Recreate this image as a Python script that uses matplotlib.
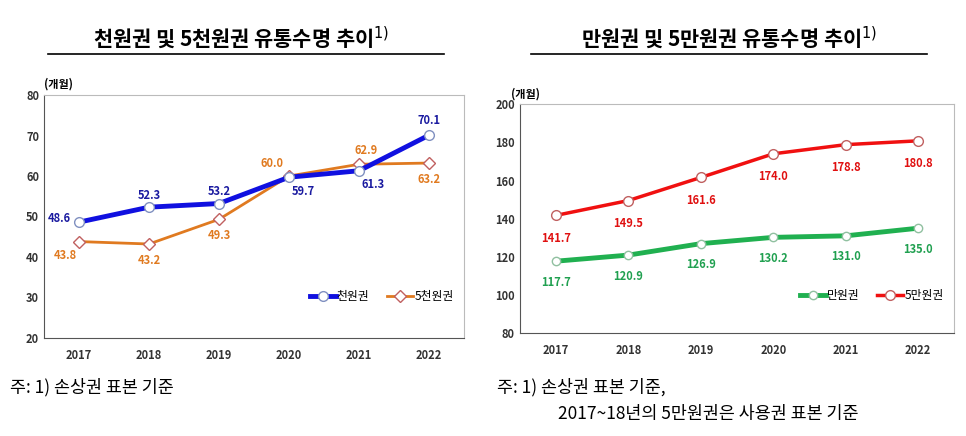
import matplotlib
matplotlib.use("Agg")
import matplotlib.pyplot as plt

plt.rcParams['font.family'] = ['Noto Sans CJK KR', 'DejaVu Sans']

years = ['2017', '2018', '2019', '2020', '2021', '2022']
won1000 = [48.6, 52.3, 53.2, 59.7, 61.3, 70.1]
won5000 = [43.8, 43.2, 49.3, 60.0, 62.9, 63.2]
won10000 = [117.7, 120.9, 126.9, 130.2, 131.0, 135.0]
won50000 = [141.7, 149.5, 161.6, 174.0, 178.8, 180.8]

fig = plt.figure(figsize=(9.66, 4.36), dpi=100)
ax1 = fig.add_axes([0.0455, 0.225, 0.435, 0.557])
ax2 = fig.add_axes([0.538, 0.236, 0.45, 0.525])
x = list(range(len(years)))

def style(ax, lo, hi, step):
    ax.set_ylim(lo, hi)
    ax.set_yticks(range(lo, hi + 1, step))
    ax.set_xlim(-0.5, 5.5)
    ax.set_xticks(x)
    ax.set_xticklabels(years, fontweight='bold', fontsize=8, color='#333333')
    ax.tick_params(axis='y', labelsize=8, colors='#333333', length=0)
    ax.tick_params(axis='x', length=0, pad=8)
    for s in ax.spines.values():
        s.set_color('#bbbbbb')
    ax.spines['left'].set_color('#555555')
    ax.spines['bottom'].set_color('#555555')
    for t in ax.get_yticklabels():
        t.set_fontweight('bold')

ax1.plot(x, won1000, color='#1010e0', lw=3.5, marker='o', ms=7, mfc='white', mec='#8090c0', label='천원권', zorder=3)
ax1.plot(x, won5000, color='#e07a20', lw=2, marker='D', ms=6, mfc='white', mec='#c06060', label='5천원권', zorder=2)
style(ax1, 20, 80, 10)
off1 = [(-0.28, 0.9), (0, 3), (0, 3), (0.2, -3.5), (0.2, -3.5), (0, 3.5)]
off5 = [(-0.2, -3.5), (0, -4), (0, -4), (-0.25, 3), (0.1, 3.5), (0, -4)]
for i in x:
    ax1.text(i + off1[i][0], won1000[i] + off1[i][1], f'{won1000[i]:.1f}', color='#1a1aa0',
             fontsize=8, fontweight='bold', ha='center', va='center')
    ax1.text(i + off5[i][0], won5000[i] + off5[i][1], f'{won5000[i]:.1f}', color='#e07a20',
             fontsize=8, fontweight='bold', ha='center', va='center')
ax1.legend(loc='lower right', bbox_to_anchor=(1.0, 0.1), ncol=2, frameon=False, fontsize=8.5,
           handlelength=2.2, columnspacing=1.5, handletextpad=0.1)
ax1.text(0.0, 1.03, '(개월)', transform=ax1.transAxes, fontsize=8, fontweight='bold')

ax2.plot(x, won10000, color='#20b050', lw=3.5, marker='o', ms=6, mfc='white', mec='#90c0a0', label='만원권', zorder=3)
ax2.plot(x, won50000, color='#f01010', lw=2.5, marker='o', ms=7, mfc='white', mec='#c06060', label='5만원권', zorder=3)
style(ax2, 80, 200, 20)
for i in x:
    ax2.text(i, won10000[i] - 11, f'{won10000[i]:.1f}', color='#20a050',
             fontsize=8, fontweight='bold', ha='center', va='center')
    ax2.text(i, won50000[i] - 12, f'{won50000[i]:.1f}', color='#e01010',
             fontsize=8, fontweight='bold', ha='center', va='center')
ax2.legend(loc='lower right', bbox_to_anchor=(1.0, 0.09), ncol=2, frameon=False, fontsize=8.5,
           handlelength=2.2, columnspacing=1.5, handletextpad=0.1)
ax2.text(-0.02, 1.03, '(개월)', transform=ax2.transAxes, fontsize=8, fontweight='bold')

fig.text(0.25, 0.895, '천원권 및 5천원권 유통수명 추이$^{1)}$', ha='center', fontsize=15, fontweight='bold')
fig.text(0.755, 0.895, '만원권 및 5만원권 유통수명 추이$^{1)}$', ha='center', fontsize=15, fontweight='bold')
fig.lines.append(plt.Line2D([0.05, 0.46], [0.875, 0.875], color='black', lw=1.2, transform=fig.transFigure))
fig.lines.append(plt.Line2D([0.55, 0.96], [0.875, 0.875], color='black', lw=1.2, transform=fig.transFigure))
fig.text(0.01, 0.1, '주: 1) 손상권 표본 기준', fontsize=12.5)
fig.text(0.515, 0.1, '주: 1) 손상권 표본 기준,', fontsize=12.5)
fig.text(0.578, 0.04, '2017~18년의 5만원권은 사용권 표본 기준', fontsize=12.5)

fig.savefig('out.png', dpi=100)
